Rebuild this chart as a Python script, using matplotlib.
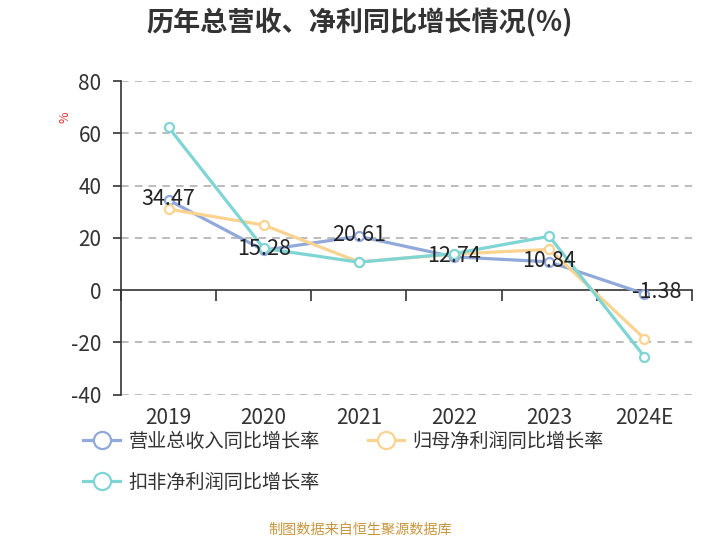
import matplotlib
matplotlib.use("Agg")
import matplotlib.pyplot as plt
from matplotlib.ticker import FixedLocator

plt.rcParams['font.family'] = ['Noto Sans CJK SC', 'DejaVu Sans']
plt.rcParams['axes.unicode_minus'] = False

# data
years = ['2019', '2020', '2021', '2022', '2023', '2024E']
revenue = [34.47, 15.28, 20.61, 12.74, 10.84, -1.38]
net_profit = [31.0, 24.9, 10.8, 13.8, 15.6, -18.5]
deducted = [62.3, 16.0, 10.7, 14.0, 20.6, -25.4]
names = ['营业总收入同比增长率', '归母净利润同比增长率', '扣非净利润同比增长率']
colors = ['#91a8da', '#fbd391', '#7fd4d4']
yticks = [-40, -20, 0, 20, 40, 60, 80]

fig = plt.figure(figsize=(7.2, 5.4), dpi=100)
ax = fig.add_axes([0.168, 0.269, 0.793, 0.581])

x = list(range(len(years)))
lines = []
for vals, name, c in zip([revenue, net_profit, deducted], names, colors):
    ln, = ax.plot(x, vals, color=c, lw=2.3, marker='o', ms=6.5, mfc='white',
                  mec=c, mew=1.6, label=name, zorder=3)
    lines.append(ln)

# value labels on revenue line
for xi, v in zip(x, revenue):
    dx = 0.13 if v < 0 else 0
    ax.text(xi + dx, v + 0.5, f'{v:.2f}', ha='center', va='center',
            fontsize=15.5, color='#222222', zorder=4)

ax.set_xlim(-0.5, len(years) - 0.5)
ax.set_ylim(-40, 80)
ax.set_yticks(yticks)
ax.set_yticklabels([str(t) for t in yticks], fontsize=15, color='#333333')
for t in yticks:
    if t != 0:
        ax.axhline(t, color='#aaaaaa', lw=1.1, ls=(0, (5, 4)), zorder=1)

for s in ['top', 'right']:
    ax.spines[s].set_visible(False)
ax.spines['left'].set_color('#333333')
ax.spines['left'].set_linewidth(1.2)
ax.spines['bottom'].set_position(('data', 0))
ax.spines['bottom'].set_color('#333333')
ax.spines['bottom'].set_linewidth(1.2)
ax.tick_params(axis='y', length=6, width=1.2, color='#333333', pad=8)

# ticks at band boundaries on the zero line
ax.xaxis.set_major_locator(FixedLocator([i - 0.5 for i in range(len(years) + 1)]))
ax.set_xticklabels([])
ax.tick_params(axis='x', length=8, width=1.2, color='#333333', direction='out')

# category labels at the bottom of the plot
sec = ax.secondary_xaxis('bottom')
sec.set_xticks(x)
sec.set_xticklabels(years, fontsize=15, color='#333333')
sec.tick_params(length=0, pad=9)
sec.spines['bottom'].set_visible(False)

fig.text(0.09, 0.782, '%', color='#e03030', fontsize=9, rotation=90,
         ha='center', va='center')
fig.text(0.5, 0.958, '历年总营收、净利同比增长情况(%)', ha='center', va='center',
         fontsize=19.5, fontweight='bold', color='#333333')

# column-wise fill: blue & teal in first column, orange in second
handles = [lines[0], lines[2], lines[1]]
leg = fig.legend(handles, [h.get_label() for h in handles],
                 loc='upper left', bbox_to_anchor=(0.092, 0.234), ncol=2,
                 frameon=False, fontsize=13.8, markerscale=1.9,
                 handlelength=1.9, columnspacing=2.5, labelspacing=1.05,
                 handletextpad=0.45)
for t in leg.get_texts():
    t.set_color('#333333')

fig.text(0.5, 0.018, '制图数据来自恒生聚源数据库', ha='center', va='center',
         fontsize=10.2, color='#c8963e')

fig.savefig('out.png', dpi=100)
